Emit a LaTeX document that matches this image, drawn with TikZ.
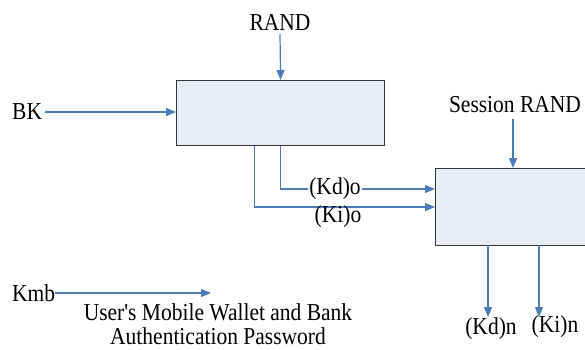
\documentclass[tikz,border=0pt]{standalone}
\usepackage{fontspec}
\setmainfont{Liberation Serif}
\usetikzlibrary{arrows.meta}
\definecolor{linkblue}{HTML}{4A7EBB}
\definecolor{boxfill}{HTML}{E8ECF7}
% labels are set slightly taller than wide
\newcommand{\tall}[1]{\scalebox{1}[1.13]{#1}}
\begin{document}
\begin{tikzpicture}[x=1pt,y=-1pt,
  lbl/.style={font=\fontsize{21.5}{28}\selectfont, inner sep=0pt},
  blk/.style={draw=black!80, fill=boxfill, line width=1.2pt, inner sep=0pt, anchor=north west},
  link/.style={draw=linkblue, line width=1.2pt, -{Triangle[length=10pt,width=8pt]}}]
\useasboundingbox (0,0) rectangle (585,349);
\clip (0,0) rectangle (585,349);

% the two processing blocks
\node[blk, minimum width=208pt, minimum height=65pt] (kdf) at (176,80) {};
\node[blk, minimum width=170pt, minimum height=77pt] (mix) at (435,168) {};

% inputs of the first block
\node[lbl] (rand) at (280,22) {\tall{RAND}};
\draw[link] ([yshift=-4pt]rand.south) -- (kdf.north);
\node[lbl, anchor=west] (bk) at (12,112) {\tall{BK}};
\draw[link] ([xshift=3pt]bk.east) -- (bk.east -| kdf.west);

% session input of the second block
\node[lbl] (srand) at (515,105) {\tall{Session RAND}};
\draw[link] ([xshift=-2pt,yshift=-6pt]srand.south) -- ([xshift=-2pt]srand.south |- mix.north);

% keys passed from the first block to the second
\coordinate (kdin) at (435,189);
\coordinate (kiin) at (435,207);
\draw[link] (kdf.south) |- (kdin);
\draw[link] ([xshift=-26pt]kdf.south) |- (kiin);
\node[lbl, fill=white, inner sep=1pt] (kdo) at (335,189) {\tall{(Kd)o}};
\node[lbl] (kio) at (338,217) {\tall{(Ki)o}};

% new keys produced by the second block
\coordinate (kdtop) at (488,245);
\coordinate (kitop) at (539,245);
\coordinate (kdend) at (488,317);
\coordinate (kiend) at (539,317);
\draw[link] (kdtop) -- (kdend);
\draw[link] (kitop) -- (kiend);
\node[lbl] (kdn) at (491,329) {\tall{(Kd)n}};
\node[lbl] (kin) at (555,327) {\tall{(Ki)n}};

% password key
\node[lbl, anchor=west] (kmb) at (12,293) {\tall{Kmb}};
\coordinate (kmbend) at (211,293);
\draw[link] (kmb.east) -- (kmbend);
\node[lbl] (pwd1) at (218,312) {\tall{User\textquotesingle s Mobile Wallet and Bank}};
\node[lbl] (pwd2) at (218,336) {\tall{Authentication Password}};
\end{tikzpicture}
\end{document}
